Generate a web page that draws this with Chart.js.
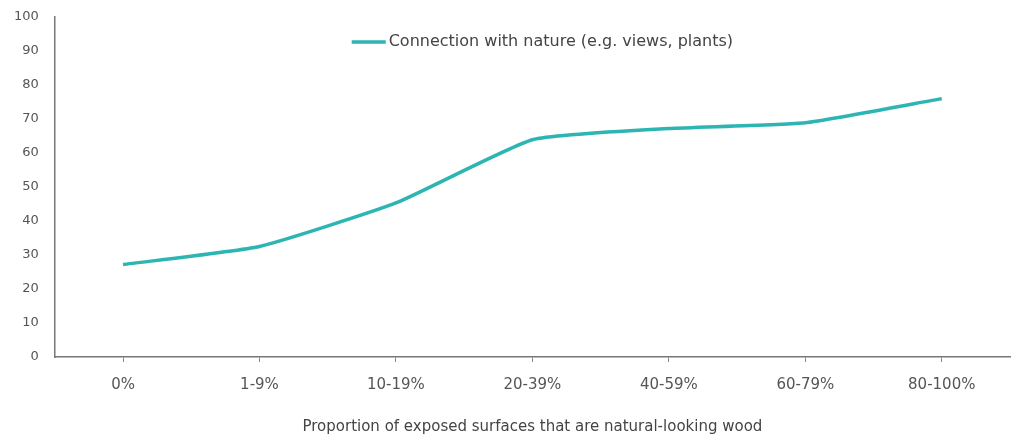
<!DOCTYPE html>
<html>
<head>
<meta charset="utf-8">
<script src="https://cdn.jsdelivr.net/npm/chart.js@4.4.0/dist/chart.umd.min.js"></script>
<style>
  html, body { margin: 0; padding: 0; background: #fff; }
  #wrap { width: 1019px; height: 438px; }
</style>
</head>
<body>
<div id="wrap"><canvas id="grafico"></canvas></div>
<script>
// Categorías del eje X
const categorias = ['0%', '1-9%', '10-19%', '20-39%', '40-59%', '60-79%', '80-100%'];
// Valores
const valoresNaturaleza = [27.2, 32.5, 45.3, 63.9, 67.2, 68.9, 76.0];
const nombreSerie = 'Connection with nature (e.g. views, plants)';
const tituloX = 'Proportion of exposed surfaces that are natural-looking wood';

const gris = '#555555';
const fuente = '"DejaVu Sans", sans-serif';

// Leyenda dibujada dentro del área del gráfico, centrada arriba
const leyendaInterna = {
    id: 'leyendaInterna',
    afterDraw(chart) {
        const ctx = chart.ctx;
        const area = chart.chartArea;
        const ds = chart.data.datasets[0];
        ctx.save();
        ctx.font = '16px ' + fuente;
        const anchoTexto = ctx.measureText(ds.label).width;
        const anchoLinea = 34;
        const total = anchoLinea + 3 + anchoTexto;
        const x0 = (area.left + area.right) / 2 - total / 2 + 10;
        const y = area.top + 25;
        ctx.strokeStyle = ds.borderColor;
        ctx.lineWidth = 3.5;
        ctx.beginPath();
        ctx.moveTo(x0, y);
        ctx.lineTo(x0 + anchoLinea, y);
        ctx.stroke();
        ctx.fillStyle = '#444';
        ctx.textBaseline = 'middle';
        ctx.fillText(ds.label, x0 + anchoLinea + 3, y);
        ctx.restore();
    }
};

new Chart(document.getElementById('grafico'), {
    type: 'line',
    data: {
        labels: categorias,
        datasets: [{
            label: nombreSerie,
            data: valoresNaturaleza,
            borderColor: '#2cb5b3',
            backgroundColor: '#2cb5b3',
            borderWidth: 3.5,
            pointRadius: 0,
            tension: 0.15,
            fill: false,
        }],
    },
    options: {
        responsive: true,
        maintainAspectRatio: false,
        animation: false,
        layout: { padding: { top: 17, right: 9, bottom: 2, left: 6 } },
        plugins: {
            legend: { display: false },
            tooltip: { enabled: false },
        },
        scales: {
            x: {
                offset: true,
                grid: { offset: false, drawOnChartArea: false, color: '#888', tickLength: 5 },
                border: { color: '#777', width: 1.5 },
                ticks: { color: gris, font: { family: fuente, size: 15 }, padding: 14 },
                title: {
                    display: true,
                    text: tituloX,
                    color: '#444',
                    font: { family: fuente, size: 15 },
                    padding: { top: 10, bottom: 0 },
                },
            },
            y: {
                min: 0,
                max: 100,
                ticks: { stepSize: 10, color: gris, font: { family: fuente, size: 13 }, padding: 8 },
                grid: { display: false },
                border: { color: '#777', width: 1.5 },
            },
        },
    },
    plugins: [leyendaInterna],
});
</script>
</body>
</html>
